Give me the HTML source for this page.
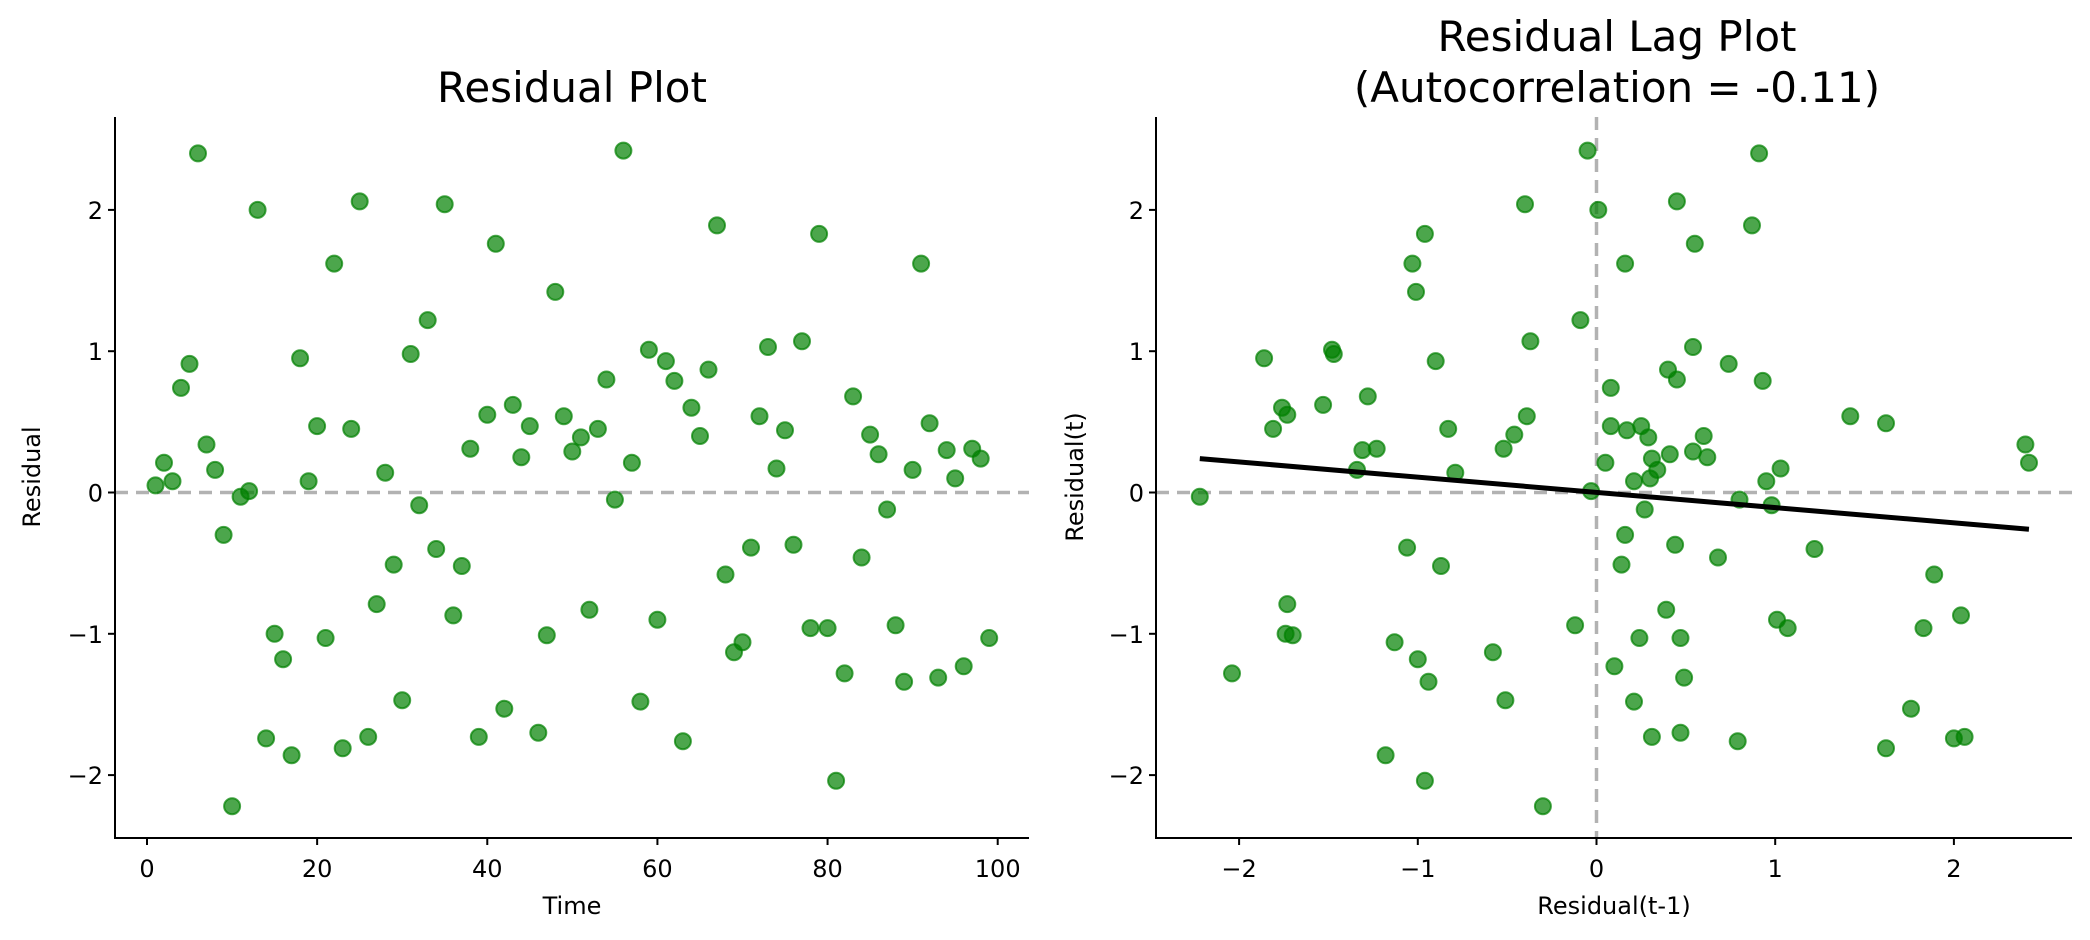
<!DOCTYPE html>
<html><head><meta charset="utf-8"><style>
html,body{margin:0;padding:0;background:#fff;}
svg{display:block;font-family:"DejaVu Sans","Liberation Sans",sans-serif;}
</style></head><body>
<svg id="s" width="2090" height="940" viewBox="0 0 2090 940" xmlns="http://www.w3.org/2000/svg">
<rect width="2090" height="940" fill="#fff"/>
<text x="572" y="102" font-size="42" text-anchor="middle">Residual Plot</text>
<text x="1617" y="51" font-size="42" text-anchor="middle">Residual Lag Plot</text>
<text x="1617" y="102" font-size="42" text-anchor="middle">(Autocorrelation = -0.11)</text>
<g id="g"></g>
</svg>
<script>
var v=[0.05,0.21,0.08,0.74,0.91,2.40,0.34,0.16,-0.30,-2.22,
-0.03,0.01,2.00,-1.74,-1.00,-1.18,-1.86,0.95,0.08,0.47,
-1.03,1.62,-1.81,0.45,2.06,-1.73,-0.79,0.14,-0.51,-1.47,
0.98,-0.09,1.22,-0.40,2.04,-0.87,-0.52,0.31,-1.73,0.55,
1.76,-1.53,0.62,0.25,0.47,-1.70,-1.01,1.42,0.54,0.29,
0.39,-0.83,0.45,0.80,-0.05,2.42,0.21,-1.48,1.01,-0.90,
0.93,0.79,-1.76,0.60,0.40,0.87,1.89,-0.58,-1.13,-1.06,
-0.39,0.54,1.03,0.17,0.44,-0.37,1.07,-0.96,1.83,-0.96,
-2.04,-1.28,0.68,-0.46,0.41,0.27,-0.12,-0.94,-1.34,0.16,
1.62,0.49,-1.31,0.30,0.10,-1.23,0.31,0.24,-1.03];
var h='';
function Y(y){return 492.5-141.3*y;}
function XL(t){return 147+8.507*t;}
function XR(u){return 1596.5+178.7*u;}
h+='<line x1="115" y1="492.5" x2="1029" y2="492.5" stroke="#aaa" stroke-width="3.5" stroke-dasharray="13,8" stroke-opacity="0.9"/>';
h+='<line x1="1156" y1="492.5" x2="2072" y2="492.5" stroke="#aaa" stroke-width="3.5" stroke-dasharray="13,8" stroke-opacity="0.9"/>';
h+='<line x1="1596.5" y1="117" x2="1596.5" y2="838" stroke="#aaa" stroke-width="3.5" stroke-dasharray="13,8" stroke-opacity="0.9"/>';
var pt=function(x,y){return '<circle cx="'+x.toFixed(1)+'" cy="'+y.toFixed(1)+'" r="8" fill="#008000" fill-opacity="0.7" stroke="#008000" stroke-opacity="0.7" stroke-width="2"/>';};
for(var i=0;i<v.length;i++){h+=pt(XL(i+1),Y(v[i]));}
for(var i=1;i<v.length;i++){h+=pt(XR(v[i-1]),Y(v[i]));}
h+='<line x1="'+XR(-2.22)+'" y1="'+Y(0.24)+'" x2="'+XR(2.42)+'" y2="'+Y(-0.26)+'" stroke="#000" stroke-width="5"/>';
h+='<path d="M115 117 V838 H1029" fill="none" stroke="#000" stroke-width="2"/>';
h+='<path d="M1156 117 V838 H2072" fill="none" stroke="#000" stroke-width="2"/>';
var ys=[2,1,0,-1,-2];
function lab(n){return n<0?'\u2212'+(-n):''+n;}
ys.forEach(function(y){
 [115,1156].forEach(function(ax){
  h+='<line x1="'+(ax-7)+'" y1="'+Y(y)+'" x2="'+ax+'" y2="'+Y(y)+'" stroke="#000" stroke-width="2"/>';
  h+='<text x="'+(ax-12)+'" y="'+(Y(y)+9)+'" font-size="24" text-anchor="end">'+lab(y)+'</text>';
 });
});
[0,20,40,60,80,100].forEach(function(t){
 var x=XL(t);
 h+='<line x1="'+x+'" y1="838" x2="'+x+'" y2="845" stroke="#000" stroke-width="2"/>';
 h+='<text x="'+x+'" y="877" font-size="24" text-anchor="middle">'+t+'</text>';
});
[-2,-1,0,1,2].forEach(function(u){
 var x=XR(u);
 h+='<line x1="'+x+'" y1="838" x2="'+x+'" y2="845" stroke="#000" stroke-width="2"/>';
 h+='<text x="'+x+'" y="877" font-size="24" text-anchor="middle">'+lab(u)+'</text>';
});
h+='<text x="572" y="914" font-size="24" text-anchor="middle">Time</text>';
h+='<text x="1614" y="914" font-size="24" text-anchor="middle">Residual(t-1)</text>';
h+='<text transform="translate(40,477) rotate(-90)" font-size="24" text-anchor="middle">Residual</text>';
h+='<text transform="translate(1083,477) rotate(-90)" font-size="24" text-anchor="middle">Residual(t)</text>';
document.getElementById('g').innerHTML=h;
</script>
</body></html>
